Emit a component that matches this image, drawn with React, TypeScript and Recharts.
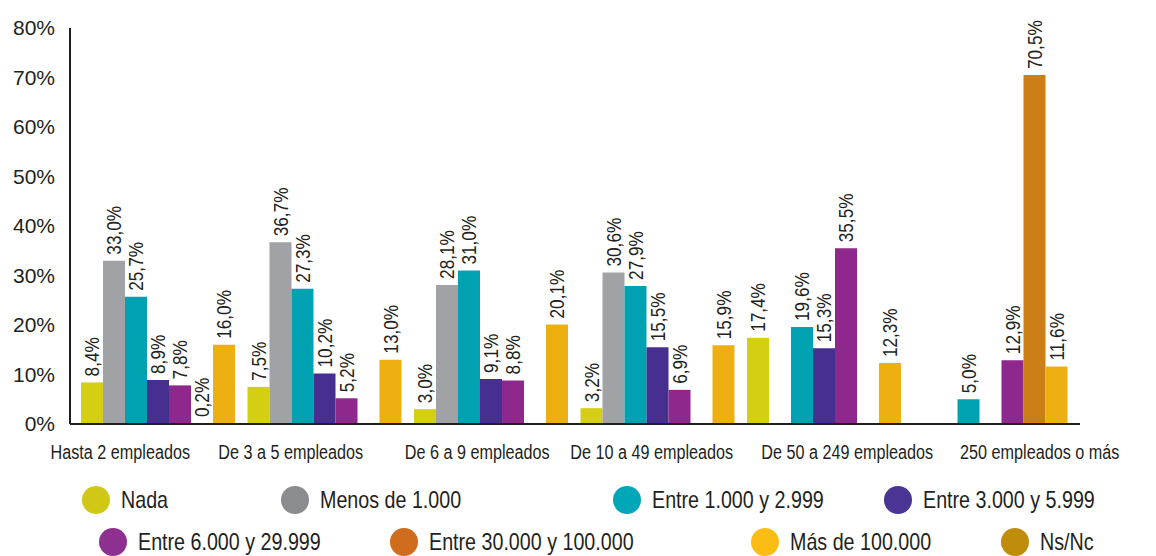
import React from 'react';
import { BarChart, Bar, XAxis, YAxis, LabelList } from 'recharts';

const categories = [
  'Hasta 2 empleados',
  'De 3 a 5 empleados',
  'De 6 a 9 empleados',
  'De 10 a 49 empleados',
  'De 50 a 249 empleados',
  '250 empleados o más',
];

// null = sin barra en el original
const nada = [8.4, 7.5, 3.0, 3.2, 17.4, null];
const menos1000 = [33.0, 36.7, 28.1, 30.6, null, null];
const entre1000 = [25.7, 27.3, 31.0, 27.9, 19.6, 5.0];
const entre3000 = [8.9, 10.2, 9.1, 15.5, 15.3, null];
const entre6000 = [7.8, 5.2, 8.8, 6.9, 35.5, 12.9];
const entre30000 = [0.2, null, null, null, null, 70.5];
const mas100000 = [16.0, 13.0, 20.1, 15.9, 12.3, 11.6];

const yTicks = [0, 10, 20, 30, 40, 50, 60, 70, 80];

const series = [
  { key: 'nada', name: 'Nada', values: nada, color: '#d4cf12', legend: '#cfc817' },
  { key: 'menos1000', name: 'Menos de 1.000', values: menos1000, color: '#a1a2a6', legend: '#8a8c8f' },
  { key: 'entre1000', name: 'Entre 1.000 y 2.999', values: entre1000, color: '#00a1b1', legend: '#00a7b8' },
  { key: 'entre3000', name: 'Entre 3.000 y 5.999', values: entre3000, color: '#472f92', legend: '#4a3494' },
  { key: 'entre6000', name: 'Entre 6.000 y 29.999', values: entre6000, color: '#8e288c', legend: '#8e308f' },
  { key: 'entre30000', name: 'Entre 30.000 y 100.000', values: entre30000, color: '#cd7f17', legend: '#d06c1d' },
  { key: 'mas100000', name: 'Más de 100.000', values: mas100000, color: '#eeb011', legend: '#fbbd14' },
];

const nsnc = { name: 'Ns/Nc', legend: '#bf8c0b' };

const data = categories.map((cat, i) => {
  const row: any = { cat };
  series.forEach((s) => {
    row[s.key] = s.values[i];
  });
  return row;
});

// desplazamiento de las etiquetas del eje X (en el original no van centradas)
const tickShift = [-36, -32, -12, -4, 25, 51];

// posiciones de la leyenda (centro del círculo, fila)
const legendItems = [
  { name: series[0].name, color: series[0].legend, cx: 96, row: 0 },
  { name: series[1].name, color: series[1].legend, cx: 295, row: 0 },
  { name: series[2].name, color: series[2].legend, cx: 627, row: 0 },
  { name: series[3].name, color: series[3].legend, cx: 898, row: 0 },
  { name: series[4].name, color: series[4].legend, cx: 113, row: 1 },
  { name: series[5].name, color: series[5].legend, cx: 404, row: 1 },
  { name: series[6].name, color: series[6].legend, cx: 765, row: 1 },
  { name: nsnc.name, color: nsnc.legend, cx: 1015, row: 1 },
];

// no hay fuente condensada instalada: se estrecha Liberation Sans
const sans = '"Liberation Sans", Arial, sans-serif';
const squeeze = 0.82;
const textColor = '#231f20';

const fmt = (v: number) => v.toFixed(1).replace('.', ',') + '%';

const BarLabel = (props: any) => {
  const { x, y, width, value } = props;
  if (value === null || value === undefined) return null;
  const cx = x + width / 2;
  const ty = y - 6;
  return (
    <g transform={`translate(${cx}, ${ty}) rotate(-90) scale(${squeeze}, 1)`}>
      <text
        x={0}
        y={0}
        textAnchor="start"
        dominantBaseline="central"
        fontFamily={sans}
        fontSize={21}
        fill={textColor}
      >
        {fmt(value)}
      </text>
    </g>
  );
};

const CatTick = (props: any) => {
  const { x, y, payload, index } = props;
  return (
    <g transform={`translate(${x + (tickShift[index] || 0)}, ${y + 33}) scale(0.81, 1)`}>
      <text x={0} y={0} textAnchor="middle" fontFamily={sans} fontSize={20} fill={textColor}>
        {payload.value}
      </text>
    </g>
  );
};

export default function App() {
  return (
    <div style={{ position: 'absolute', left: 0, top: 0, width: 1156, height: 556, background: '#fff' }}>
      <BarChart
        width={1156}
        height={556}
        data={data}
        margin={{ top: 28, right: 76, left: 0, bottom: 92 }}
        barCategoryGap={8}
        barGap={0}
      >
        <XAxis
          dataKey="cat"
          axisLine={{ stroke: textColor, strokeWidth: 2 }}
          tickLine={false}
          tickSize={0}
          height={40}
          padding={{ left: 3, right: 8 }}
          interval={0}
          tick={<CatTick />}
        />
        <YAxis
          domain={[0, 80]}
          ticks={yTicks}
          width={70}
          axisLine={{ stroke: textColor, strokeWidth: 2 }}
          tickLine={false}
          tickSize={6}
          tickMargin={9}
          tickFormatter={(v: number) => v + '%'}
          tick={{ fontFamily: sans, fontSize: 21, fill: textColor }}
        />
        {series.map((s) => (
          <Bar key={s.key} dataKey={s.key} name={s.name} fill={s.color} isAnimationActive={false}>
            <LabelList dataKey={s.key} content={<BarLabel />} />
          </Bar>
        ))}
      </BarChart>
      {legendItems.map((it) => (
        <div
          key={it.name}
          style={{
            position: 'absolute',
            left: it.cx - 14,
            top: (it.row === 0 ? 500 : 542) - 14,
            height: 28,
            display: 'flex',
            alignItems: 'center',
            whiteSpace: 'nowrap',
            fontFamily: sans,
            fontSize: 24,
            color: textColor,
          }}
        >
          <span style={{ width: 28, height: 28, borderRadius: '50%', background: it.color, display: 'inline-block', flexShrink: 0 }} />
          <span style={{ marginLeft: 11, display: 'inline-block', transform: `scaleX(${squeeze})`, transformOrigin: 'left center' }}>
            {it.name}
          </span>
        </div>
      ))}
    </div>
  );
}
